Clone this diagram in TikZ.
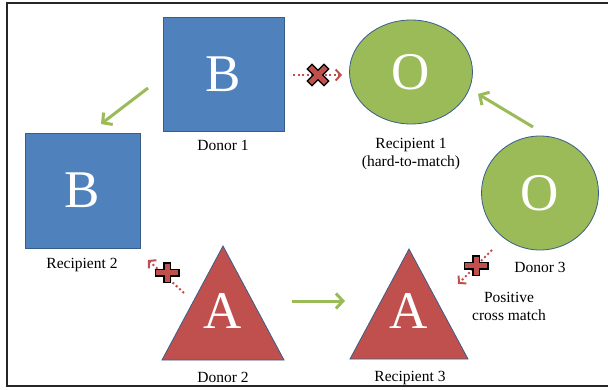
\documentclass[tikz,border=0pt]{standalone}
\usepackage{fontspec}
\setmainfont{Liberation Serif}
\usepackage{tikz}
\usetikzlibrary{arrows.meta}
\usetikzlibrary{shapes.geometric}
\definecolor{typeblue}{HTML}{4F81BD}
\definecolor{typegreen}{HTML}{9BBB59}
\definecolor{typered}{HTML}{C0504D}
\definecolor{rimblue}{HTML}{385D8A}
\tikzset{
  bsquare/.style={rectangle, fill=typeblue, draw=rimblue, thick, text=white,
    font=\fontsize{53}{53}\selectfont, inner sep=0pt},
  odisc/.style={ellipse, fill=typegreen, draw=rimblue, thick, text=white,
    font=\fontsize{53}{53}\selectfont, inner sep=0pt},
  atri/.style={fill=typered, draw=rimblue, thick},
  aletter/.style={text=white, font=\fontsize{53}{53}\selectfont, inner sep=0pt},
  caption/.style={font=\fontsize{15.5}{18}\selectfont, align=center, inner sep=0pt},
  match/.style={typegreen, line width=3pt, -{Straight Barb[length=7pt,width=15pt]}},
  nomatch/.style={typered, line width=2pt, dash pattern=on 2pt off 2.5pt,
    -{Straight Barb[length=5pt,width=11pt]}}
}

\begin{document}
\begin{tikzpicture}[x=1pt,y=-1pt]
  \useasboundingbox (0,0) rectangle (608,390);
  % frame, open on the right
  \draw[line width=1.8pt, black!85] (612,3) -- (7,3) -- (7,386) -- (612,386);

  % blood groups
  \node[bsquare, minimum width=121pt, minimum height=114pt] (d1) at (223.5,74) {B};
  \node[odisc, minimum width=123pt, minimum height=104pt] (r1) at (411,72) {O};
  \node[bsquare, minimum width=115pt, minimum height=115pt] (r2) at (82.5,190.5) {B};
  \node[odisc, minimum width=117pt, minimum height=114pt] (d3) at (540,193) {O};
  \draw[atri] (162,360) -- (223,246) -- (284,360) -- cycle;
  \draw[atri] (350,359) -- (409,249) -- (468,359) -- cycle;
  \node[aletter] (d2) at (223,311) {A};
  \node[aletter] (r3) at (409,311) {A};

  \foreach \n/\x/\y/\t in {
    c1/223/145/Donor 1,
    c2/411/154/Recipient 1\\(hard-to-match),
    c3/82/265/Recipient 2,
    c4/540/267/Donor 3,
    c5/223/377/Donor 2,
    c6/410/378/Recipient 3,
    c7/509/306/Positive\\cross match%
  } {
    \node[caption] (\n) at (\x,\y) {\t};
  }

  % arrow ends
  \foreach \n/\x/\y in {
    g1/148/88,  h1/101/124,
    g2/292/301, h2/345/301,
    g3/533/127, h3/478/94,
    p1/293/75,  q1/342/75,
    p2/184/293, q2/148/260,
    p3/492/250, q3/458/284%
  } {
    \coordinate (\n) at (\x,\y);
  }
  \foreach \u/\v in {g1/h1, g2/h2, g3/h3} {
    \draw[match] (\u) -- (\v);
  }
  \foreach \u/\v in {p1/q1, p2/q2, p3/q3} {
    \draw[nomatch] (\u) -- (\v);
  }

  % crosses on the failed matches
  \foreach \x/\y/\r/\a/\b in {
    318/75/45/12.5/12.5,
    167/273/0/12.5/10.5,
    476/266/0/12.5/10.5%
  } {
    \begin{scope}[shift={(\x,\y)}, rotate=\r]
      \draw[black, line width=8pt] (-\a,0) -- (\a,0) (0,-\b) -- (0,\b);
      \draw[typered, line width=5pt] (-\a+1.5,0) -- (\a-1.5,0) (0,-\b+1.5) -- (0,\b-1.5);
    \end{scope}
  }
\end{tikzpicture}
\end{document}
